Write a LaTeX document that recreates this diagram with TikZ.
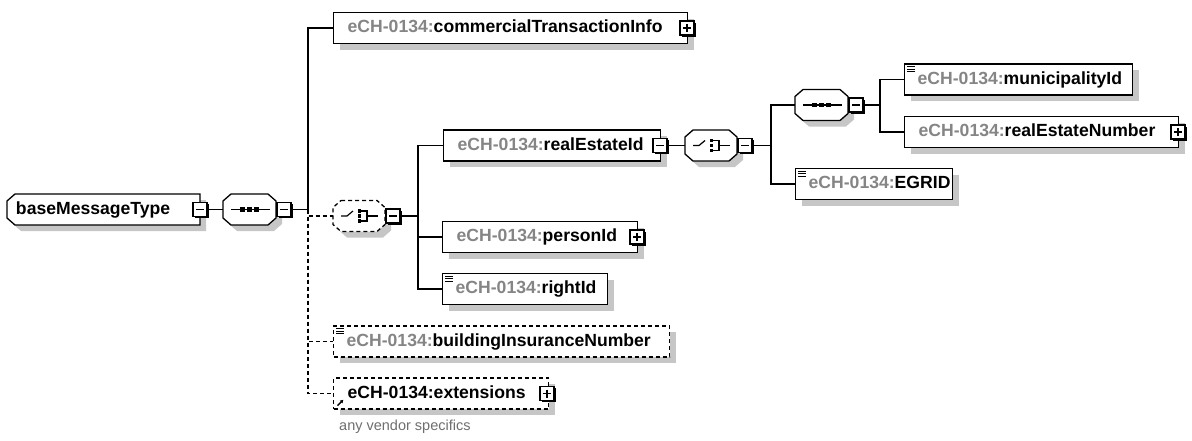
\documentclass[tikz,border=0pt]{standalone}
\usepackage{fontspec}
\setmainfont{Liberation Sans}
\usetikzlibrary{shadows,calc,backgrounds,arrows.meta}
\definecolor{pfxgray}{HTML}{858585}
\definecolor{shadowgray}{HTML}{C6C6C6}
\definecolor{notegray}{HTML}{6E6E6E}
\newcommand\pfx[1]{\mbox{\textcolor{pfxgray}{eCH-0134:}#1}}
\tikzset{
  elfont/.style={font=\fontsize{17.6}{20}\selectfont\bfseries},
  elem/.style={draw, fill=white, line width=1.3pt, minimum height=31pt, inner xsep=14pt, inner ysep=0pt,
    align=left, anchor=west, elfont, text height=13pt, text depth=4pt,
    drop shadow={shadow xshift=6pt, shadow yshift=-6pt, opacity=1, fill=shadowgray}},
  docel/.style={elem, inner xsep=13pt},
  cplx/.style={minimum height=31pt, inner xsep=9pt, inner ysep=0pt, outer sep=0pt, align=left, anchor=west,
    elfont, text height=13pt, text depth=4pt},
  opt/.style={dash pattern=on 4pt off 3pt},
  conn/.style={line width=1.3pt},
  pmbox/.style={draw, fill=white, line width=1.1pt, minimum size=14pt, inner sep=0pt,
    drop shadow={shadow xshift=1.8pt, shadow yshift=-1.8pt, opacity=1, fill=black}},
  minusbox/.style={pmbox, path picture={\draw[line width=1.3pt] ([xshift=3pt]path picture bounding box.west) -- ([xshift=-3pt]path picture bounding box.east);}},
  plusbox/.style={pmbox, path picture={\draw[line width=1.3pt] ([xshift=3pt]path picture bounding box.west) -- ([xshift=-3pt]path picture bounding box.east) ([yshift=-3pt]path picture bounding box.north) -- ([yshift=3pt]path picture bounding box.south);}},
  comp/.style={minimum height=31pt, minimum width=53pt, inner sep=0pt, outer sep=0pt, anchor=west},
}
\newcommand\octo[2][]{%
  \fill[shadowgray] ($(#2.north west)+(14,6)$) -- ($(#2.north east)+(-2,6)$) -- ($(#2.north east)+(6,13)$) -- ($(#2.south east)+(6,-1)$) -- ($(#2.south east)+(-2,6)$) -- ($(#2.south west)+(14,6)$) -- ($(#2.south west)+(6,-1)$) -- ($(#2.north west)+(6,13)$) -- cycle;
  \draw[fill=white,line width=1.3pt,#1] ($(#2.north west)+(8,0)$) -- ($(#2.north east)+(-8,0)$) -- ($(#2.north east)+(0,7)$) -- ($(#2.south east)+(0,-7)$) -- ($(#2.south east)+(-8,0)$) -- ($(#2.south west)+(8,0)$) -- ($(#2.south west)+(0,-7)$) -- ($(#2.north west)+(0,7)$) -- cycle;
}
\newcommand\seqsym[1]{%
  \draw[line width=1.2pt] ($(#1.west)+(8,0)$) -- ($(#1.east)+(-6,0)$);
  \foreach \d in {-7,0,7} \fill ($(#1.center)+(\d-2.4,-2.4)$) rectangle +(4.8,4.8);
}
\newcommand\chsym[1]{%
  \draw[line width=1.2pt] ($(#1.center)+(-18,0)$) -- ($(#1.center)+(-12,0)$) -- ($(#1.center)+(-6,-5)$);
  \foreach \d in {-5,0,5} \fill ($(#1.center)+(-1.5,\d-1.9)$) rectangle +(3.8,3.8);
  \draw[line width=1.2pt] ($(#1.center)+(2,-5)$) -- ($(#1.center)+(8,-5)$) -- ($(#1.center)+(8,5)$) -- ($(#1.center)+(2,5)$)
    ($(#1.center)+(8,0)$) -- ($(#1.center)+(19,0)$);
}
\newcommand\docicon[1]{%
  \draw[line width=0.9pt] ($(#1.north west)+(3,3.5)$) -- +(7.5,0) ($(#1.north west)+(3,5.8)$) -- +(7.5,0) ($(#1.north west)+(3,8.1)$) -- +(7.5,0);
}
\begin{document}
\begin{tikzpicture}[x=1pt,y=-1pt]
\useasboundingbox (0,0) rectangle (1192,440);

% root complex type
\node[cplx, minimum width=193pt, text width=175pt] (base) at (7,209.5) {baseMessageType};
\begin{scope}[on background layer]
  \fill[shadowgray] ($(base.north west)+(14,6)$) -- ($(base.north east)+(6,6)$) -- ($(base.south east)+(6,6)$) -- ($(base.south west)+(14,6)$) -- ($(base.south west)+(6,-1)$) -- ($(base.north west)+(6,13)$) -- cycle;
  \draw[fill=white,line width=1.3pt] ($(base.north west)+(8,0)$) -- (base.north east) -- (base.south east) -- ($(base.south west)+(8,0)$) -- ($(base.south west)+(0,-7)$) -- ($(base.north west)+(0,7)$) -- cycle;
\end{scope}
\node[minusbox] (bm) at (200,209.5) {};

% first sequence
\node[comp] (seq1) at (223,209.5) {};
\octo{seq1}
\seqsym{seq1}
\node[minusbox] (s1m) at (284,209.5) {};

% trunk children
\node[elem, text width=326pt] (cti) at (333,28) {\pfx{commercialTransactionInfo}};
\node[plusbox] (ctip) at (687,28) {};

\node[comp, minimum width=52pt] (ch1) at (333,216) {};
\octo[opt]{ch1}
\chsym{ch1}
\node[minusbox] (c1m) at (393,216) {};

\node[docel, opt, text width=310pt] (bin) at (333,341.5) {\pfx{buildingInsuranceNumber}};
\docicon{bin}
\node[elem, opt, text width=187pt] (ext) at (333,393.5) {\mbox{eCH-0134:extensions}};
\node[plusbox] (extp) at (547,393.5) {};
\draw[line width=1.4pt, -{Latex[length=3.4pt,width=4.2pt]}] ($(ext.south west)+(4.5,-4)$) -- ($(ext.south west)+(10.5,-10)$);
\node[anchor=west, inner sep=0pt, font=\fontsize{14.5}{16}\selectfont, text=notegray] (note) at (339,427) {any vendor specifics};

% choice children
\node[elem, text width=189pt] (rei) at (443,145.5) {\pfx{realEstateId}};
\node[minusbox] (reim) at (660,145.5) {};
\node[elem, text width=167pt] (pid) at (442,237) {\pfx{personId}};
\node[plusbox] (pidp) at (637,237) {};
\node[docel, text width=139pt] (rid) at (442,289) {\pfx{rightId}};
\docicon{rid}

% second choice
\node[comp, minimum width=52pt] (ch2) at (685,145.5) {};
\octo{ch2}
\chsym{ch2}
\node[minusbox] (c2m) at (745,145.5) {};

% second sequence
\node[comp] (seq2) at (795,105) {};
\octo{seq2}
\seqsym{seq2}
\node[minusbox] (s2m) at (856,105) {};

\node[docel, text width=202pt] (mun) at (904,79.5) {\pfx{municipalityId}};
\docicon{mun}
\node[elem, text width=246pt] (ren) at (904,132) {\pfx{realEstateNumber}};
\node[plusbox] (renp) at (1178,132) {};
\node[docel, text width=131pt] (egr) at (795,184) {\pfx{EGRID}};
\docicon{egr}

% connectors
\coordinate (tr) at (308,209.5);
\coordinate (v1) at (418,216);
\coordinate (v2) at (771,145.5);
\coordinate (v3) at (880,105);
\draw[conn] (bm.east) -- (seq1.west);
\draw[conn] (s1m.east) -- (tr);
\draw[conn] (tr) |- (cti.west);
\draw[conn,opt] (tr) |- (ch1.west);
\draw[conn,opt] (tr) |- (bin.west);
\draw[conn,opt] (tr) |- (ext.west);
\draw[conn] (c1m.east) -- (v1);
\draw[conn] (v1) |- (rei.west);
\draw[conn] (v1) |- (pid.west);
\draw[conn] (v1) |- (rid.west);
\draw[conn] (reim.east) -- (ch2.west);
\draw[conn] (c2m.east) -- (v2);
\draw[conn] (v2) |- (seq2.west);
\draw[conn] (v2) |- (egr.west);
\draw[conn] (s2m.east) -- (v3);
\draw[conn] (v3) |- (mun.west);
\draw[conn] (v3) |- (ren.west);
\end{tikzpicture}
\end{document}
